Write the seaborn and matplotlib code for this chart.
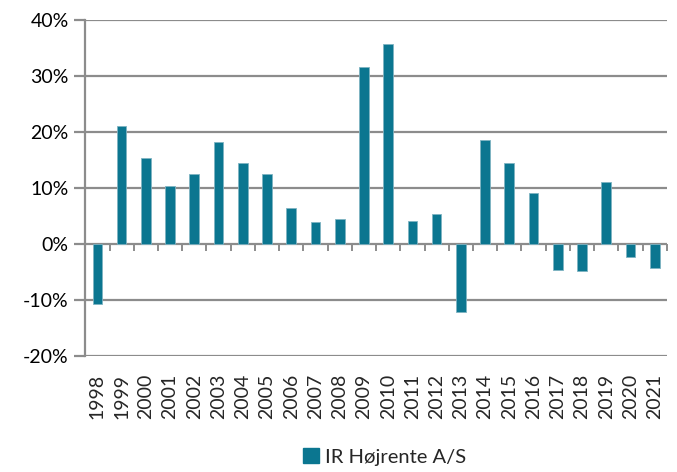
import matplotlib
matplotlib.use("Agg")
import matplotlib.pyplot as plt
import matplotlib.ticker as mticker
import pandas as pd
import seaborn as sns

years = [str(y) for y in range(1998, 2022)]
returns = [-10.8, 21.1, 15.3, 10.3, 12.6, 18.3, 14.5, 12.6, 6.4, 4.0, 4.4, 31.6,
           35.7, 4.2, 5.4, -12.1, 18.6, 14.4, 9.1, -4.7, -4.9, 11.1, -2.4, -4.3]
series_name = "IR Højrente A/S"
bar_color = "#0B7690"
grid_color = "#8C8C8C"

sns.set_style("white")
plt.rcParams["font.family"] = ["Lato", "DejaVu Sans"]

df = pd.DataFrame({"year": years, "value": returns, "series": series_name})

fig, ax = plt.subplots(figsize=(6.77, 4.72), dpi=100)
fig.subplots_adjust(left=0.126, right=0.985, top=0.957, bottom=0.246)

sns.barplot(data=df, x="year", y="value", hue="series", palette=[bar_color],
            width=0.4, saturation=1, linewidth=0.6, edgecolor="#7FB3C2",
            ax=ax, legend=False)

ax.set_ylim(-20, 40)
ax.set_xlim(-0.5, len(years) - 0.5)
ax.yaxis.set_major_locator(mticker.MultipleLocator(10))
ax.yaxis.set_major_formatter(mticker.FuncFormatter(lambda v, _: f"{v:.0f}%"))
ax.yaxis.grid(True, color=grid_color, linewidth=1.6)
ax.set_axisbelow(True)

for side in ["top", "right", "bottom"]:
    ax.spines[side].set_visible(False)
ax.spines["left"].set_color(grid_color)
ax.spines["left"].set_linewidth(1.6)

ax.tick_params(axis="y", labelsize=14, colors=grid_color, labelcolor="black",
               length=8, width=1.6, direction="out", left=True, pad=4)
ax.tick_params(axis="x", labelsize=14, labelrotation=90, length=0, pad=13)
ax.set_xlabel("")
ax.set_ylabel("")

# small tick marks between categories along the zero line
sec = ax.secondary_xaxis(1 / 3)
sec.set_xticks([i - 0.5 for i in range(len(years) + 1)])
sec.set_xticklabels([])
sec.spines["bottom"].set_visible(False)
sec.tick_params(axis="x", length=5, width=1.4, color=grid_color, direction="out")

handle = plt.Rectangle((0, 0), 1, 1, color=bar_color)
fig.legend([handle], [series_name], loc="lower center", bbox_to_anchor=(0.568, -0.025),
           frameon=False, fontsize=14.5, handlelength=0.8, handleheight=0.8,
           handletextpad=0.3)

fig.savefig("out.png", dpi=100)
